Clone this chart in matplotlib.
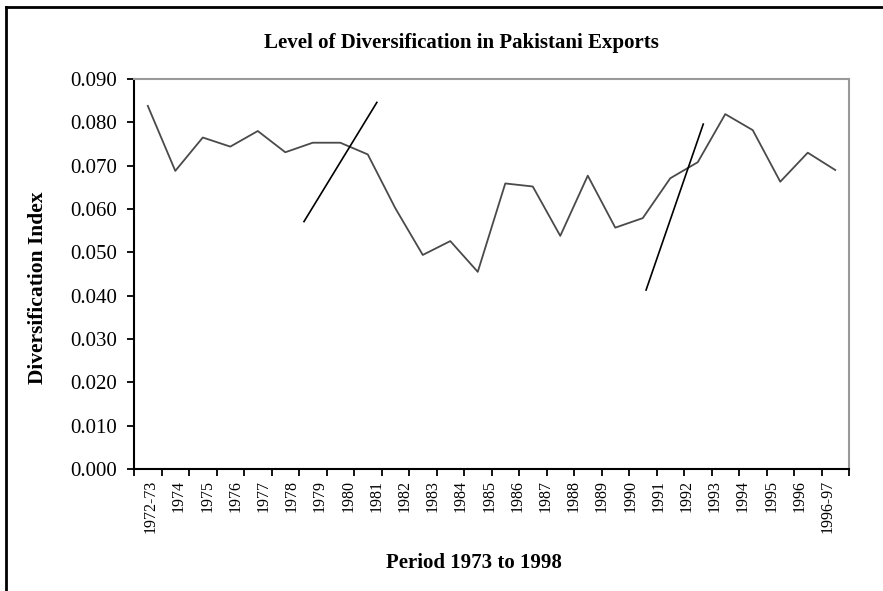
import matplotlib
matplotlib.use('Agg')
import matplotlib.pyplot as plt
import numpy as np
from matplotlib.lines import Line2D
from matplotlib.ticker import FuncFormatter

plt.rcParams['font.family'] = ['Liberation Serif', 'DejaVu Serif']

# ---- data ----
periods = ['1972-73', '1974', '1975', '1976', '1977', '1978', '1979', '1980', '1981',
           '1982', '1983', '1984', '1985', '1986', '1987', '1988', '1989', '1990',
           '1991', '1992', '1993', '1994', '1995', '1996', '1996-97']
div_index = [0.0838, 0.0688, 0.0765, 0.0744, 0.0780, 0.0731, 0.0753, 0.0753, 0.0726,
             0.0602, 0.0494, 0.0526, 0.0455, 0.0659, 0.0652, 0.0538, 0.0677, 0.0557,
             0.0579, 0.0671, 0.0708, 0.0819, 0.0782, 0.0663, 0.0730, 0.0690]

# hand-drawn break marks (slot position, index value)
mark1_x = [5.68, 8.33]
mark1_y = [0.0571, 0.0846]
mark2_x = [18.12, 20.20]
mark2_y = [0.0413, 0.0796]

y_ticks = [0.00, 0.01, 0.02, 0.03, 0.04, 0.05, 0.06, 0.07, 0.08, 0.09]

# ---- figure ----
fig = plt.figure(figsize=(8.83, 5.91), dpi=100)
ax = fig.add_axes([0.1518, 0.2064, 0.8097, 0.6599])

n = len(div_index)
xs = np.arange(n)
ax.plot(xs, div_index, color='#4a4a4a', linewidth=1.3)
ax.plot(mark1_x, mark1_y, color='black', linewidth=1.2)
ax.plot(mark2_x, mark2_y, color='black', linewidth=1.2)

ax.set_xlim(-0.5, n - 0.5)
ax.set_ylim(0, 0.09)

# spines
ax.spines['left'].set_color('black')
ax.spines['bottom'].set_color('black')
ax.spines['left'].set_linewidth(1.5)
ax.spines['bottom'].set_linewidth(1.5)
ax.spines['top'].set_color('#999999')
ax.spines['right'].set_color('#999999')
ax.spines['top'].set_linewidth(1.5)
ax.spines['right'].set_linewidth(1.5)

# y axis
ax.set_yticks(y_ticks)
ax.yaxis.set_major_formatter(FuncFormatter(lambda v, _: f"{v:.3f}"))
ax.tick_params(axis='y', direction='out', length=5, width=1.3, pad=7,
               labelsize=15, colors='black')

# x axis: ticks at category boundaries, labels spread across
ax.set_xticks(np.arange(-0.5, n))
ax.set_xticklabels([])
ax.tick_params(axis='x', which='major', direction='out', length=5, width=1.3)
ax.set_xticks(np.linspace(0.11, 24.72, len(periods)), minor=True)
ax.set_xticklabels(periods, minor=True, rotation=90, fontsize=11.5)
ax.tick_params(axis='x', which='minor', length=0, pad=8)

# texts
fig.text(0.523, 0.927, 'Level of Diversification in Pakistani Exports',
         ha='center', va='center', fontsize=15, fontweight='bold')
fig.text(0.537, 0.047, 'Period 1973 to 1998', ha='center', va='center',
         fontsize=15, fontweight='bold')
fig.text(0.043, 0.513, 'Diversification Index', ha='center', va='center',
         rotation=90, fontsize=15.5, fontweight='bold')

# page border (top and left)
fig.add_artist(Line2D([0.007, 1.0], [0.988, 0.988], transform=fig.transFigure,
                      color='black', linewidth=2))
fig.add_artist(Line2D([0.007, 0.007], [0.0, 0.988], transform=fig.transFigure,
                      color='black', linewidth=2))

fig.savefig('out.png', dpi=100)
